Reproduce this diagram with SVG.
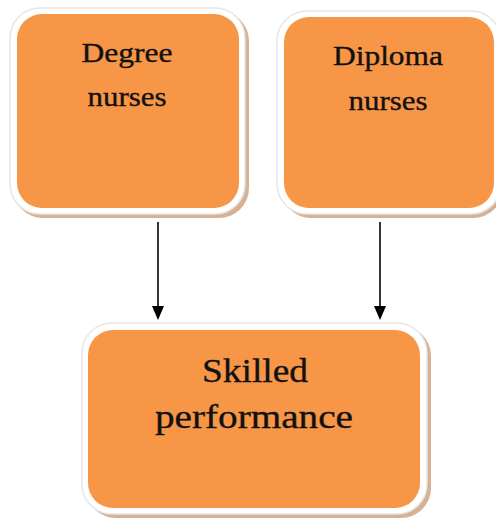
<svg xmlns="http://www.w3.org/2000/svg" width="496" height="518" viewBox="0 0 496 518">
<style>
.shadow{fill:#c9976c;opacity:0.75}
.frame{fill:#ffffff;stroke:#e6e6e6;stroke-width:1.5}
.body{fill:#f79646}
.lbl{font-family:"Liberation Serif","Times New Roman",serif;fill:#111;stroke:#111;stroke-width:0.35;text-anchor:middle}
.conn{stroke:#000;stroke-width:1.6;fill:none}
.head{fill:#000}
</style>
<rect width="496" height="518" fill="#fff"/>
<g id="degree">
<rect class="shadow" x="13" y="11" width="236" height="207" rx="30"/>
<rect class="frame" x="10" y="8" width="235" height="206" rx="30"/>
<rect class="body" x="17" y="14" width="222" height="194" rx="25"/>
<text class="lbl" x="127" y="62" font-size="27" textLength="91" lengthAdjust="spacingAndGlyphs">Degree</text>
<text class="lbl" x="127" y="106" font-size="27" textLength="79" lengthAdjust="spacingAndGlyphs">nurses</text>
</g>
<g id="diploma">
<rect class="shadow" x="281" y="14" width="222" height="204" rx="30"/>
<rect class="frame" x="277" y="11" width="224" height="203" rx="30"/>
<rect class="body" x="284" y="17" width="210" height="191" rx="25"/>
<text class="lbl" x="388" y="65" font-size="27" textLength="110" lengthAdjust="spacingAndGlyphs">Diploma</text>
<text class="lbl" x="388" y="110" font-size="27" textLength="79" lengthAdjust="spacingAndGlyphs">nurses</text>
</g>
<g id="skilled">
<rect class="shadow" x="86" y="326" width="345" height="192" rx="30"/>
<rect class="frame" x="82" y="323" width="345" height="191" rx="30"/>
<rect class="body" x="88" y="330" width="332" height="178" rx="25"/>
<text class="lbl" x="255" y="382" font-size="34" textLength="106" lengthAdjust="spacingAndGlyphs">Skilled</text>
<text class="lbl" x="254" y="428" font-size="34" textLength="198" lengthAdjust="spacingAndGlyphs">performance</text>
</g>
<g id="connectors">
<line class="conn" x1="158" y1="222" x2="158" y2="308"/>
<polygon class="head" points="152,306 164,306 158,320"/>
<line class="conn" x1="380" y1="222" x2="380" y2="308"/>
<polygon class="head" points="374,306 386,306 380,320"/>
</g>
</svg>
